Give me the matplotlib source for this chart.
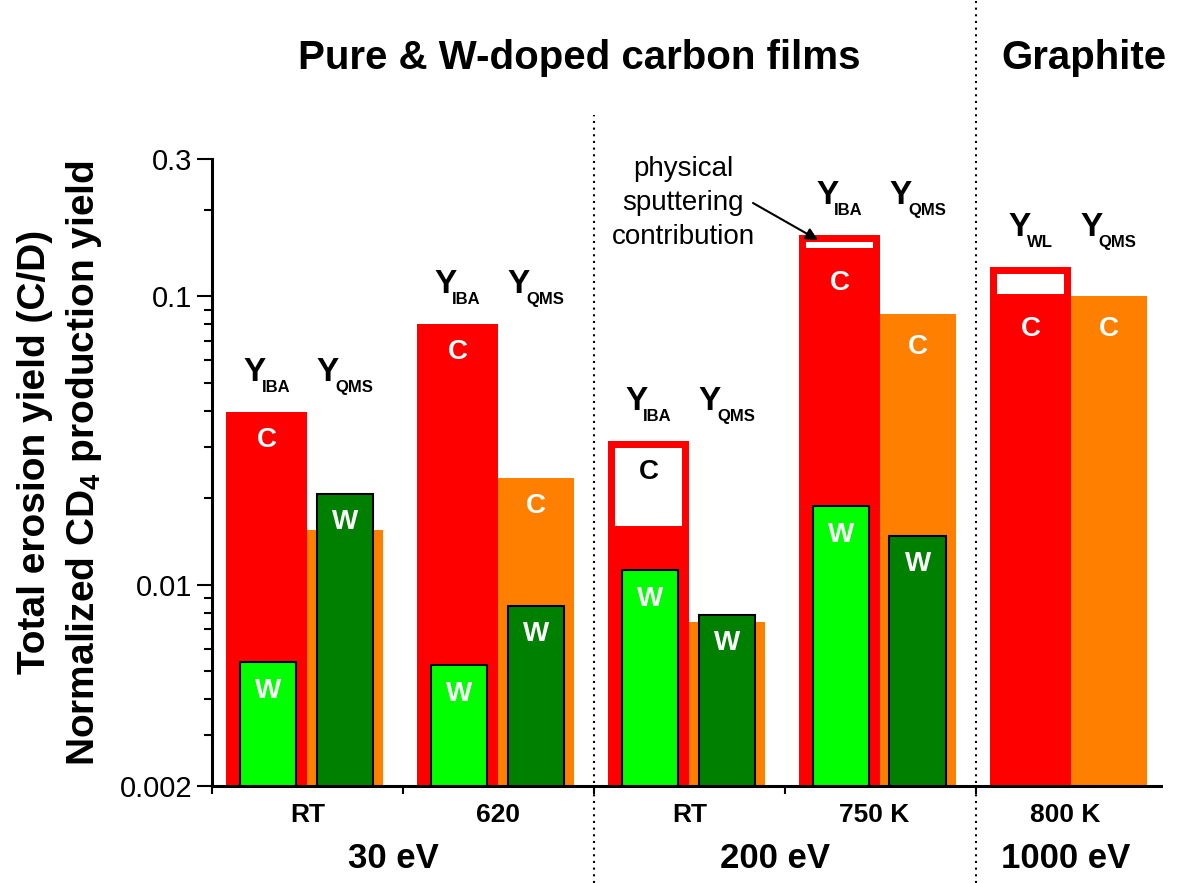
import matplotlib
matplotlib.use("Agg")
import matplotlib.pyplot as plt
from matplotlib.ticker import FixedLocator, NullFormatter, FixedFormatter

plt.rcParams['font.family'] = ['Liberation Sans', 'DejaVu Sans']
plt.rcParams['mathtext.fontset'] = 'custom'
plt.rcParams['mathtext.rm'] = 'Liberation Sans:bold'
plt.rcParams['mathtext.bf'] = 'Liberation Sans:bold'
plt.rcParams['mathtext.default'] = 'bf'

# ---------------- data ----------------
group_pos = [0, 1, 2, 3, 4]
temp_labels = ["RT", "620", "RT", "750 K", "800 K"]
temp_label_pos = [0.5, 1.5, 2.5, 3.47, 4.47]
energy_labels = ["30 eV", "200 eV", "1000 eV"]
energy_label_pos = [0.95, 2.95, 4.47]
red_label_subs = ["IBA", "IBA", "IBA", "IBA", "WL"]
orange_label_subs = ["QMS", "QMS", "QMS", "QMS", "QMS"]

c_total = [0.0396, 0.080, 0.0316, 0.164, 0.127]        # red: total erosion yield (C)
c_chemical = [None, None, 0.0160, 0.147, 0.1016]       # below the physical sputtering part
c_qms = [0.0155, 0.0235, 0.00744, 0.0866, 0.100]       # orange: CD4 QMS (C)
w_iba = [0.0054, 0.00524, 0.0112, 0.0188, None]        # light green: W-doped IBA
w_qms = [0.0207, 0.0084, 0.00787, 0.0147, None]        # dark green: W-doped QMS

# ---------------- style ----------------
RED = "#FF0000"
ORANGE = "#FF8000"
LGREEN = "#00FF00"
DGREEN = "#008000"
BOTTOM = 0.002

fig = plt.figure(figsize=(11.8, 8.83), dpi=100)
W, H = 1180, 883
ax = fig.add_axes([212 / W, (H - 786) / H, (1161 - 212) / W, (786 - 159) / H])
ax.set_yscale("log")
ax.set_ylim(0.002, 0.3)
ax.set_xlim(0, 4.97)

red_off, red_w = 0.075, 0.422
or_off, or_w = 0.497, 0.398
lg_off, lg_w = 0.147, 0.293
dg_off, dg_w = 0.548, 0.295

for i, g in enumerate(group_pos):
    ax.bar(g + or_off, c_qms[i] - BOTTOM, bottom=BOTTOM, width=or_w, align="edge",
           color=ORANGE, linewidth=0, zorder=2)
    ax.bar(g + red_off, c_total[i] - BOTTOM, bottom=BOTTOM, width=red_w, align="edge",
           color=RED, linewidth=0, zorder=2)
    if c_chemical[i] is not None:
        inset = 0.037
        top = c_total[i] * 10 ** (-7 / 288)
        ax.bar(g + red_off + inset, top - c_chemical[i], bottom=c_chemical[i],
               width=red_w - 2 * inset, align="edge", color="white", linewidth=0, zorder=3)
    if w_iba[i] is not None:
        ax.bar(g + lg_off, w_iba[i] - BOTTOM, bottom=BOTTOM, width=lg_w, align="edge",
               color=LGREEN, edgecolor="black", linewidth=1.5, zorder=4)
    if w_qms[i] is not None:
        ax.bar(g + dg_off, w_qms[i] - BOTTOM, bottom=BOTTOM, width=dg_w, align="edge",
               color=DGREEN, edgecolor="black", linewidth=1.5, zorder=4)

# letters inside bars
lfs = 20
for i, g in enumerate(group_pos):
    if i == 2:
        anchor, col, dy = c_total[i], "black", -31
    elif c_chemical[i] is not None:
        anchor, col, dy = c_chemical[i], "white", -35
    else:
        anchor, col, dy = c_total[i], "white", -28
    ax.annotate("C", xy=(g + red_off + red_w / 2, anchor), xytext=(0, dy),
                textcoords="offset pixels", ha="center", va="center",
                fontsize=lfs, fontweight="bold", color=col, zorder=6)
    if i in (1, 3, 4):
        ax.annotate("C", xy=(g + or_off + or_w / 2, c_qms[i]),
                    xytext=(0, -33 if i >= 3 else -28),
                    textcoords="offset pixels", ha="center", va="center",
                    fontsize=lfs, fontweight="bold", color="white", zorder=6)
    if w_iba[i] is not None:
        ax.annotate("W", xy=(g + lg_off + lg_w / 2, w_iba[i]), xytext=(0, -29),
                    textcoords="offset pixels", ha="center", va="center",
                    fontsize=lfs, fontweight="bold", color="white", zorder=6)
    if w_qms[i] is not None:
        ax.annotate("W", xy=(g + dg_off + dg_w / 2, w_qms[i]), xytext=(0, -28),
                    textcoords="offset pixels", ha="center", va="center",
                    fontsize=lfs, fontweight="bold", color="white", zorder=6)

# Y_xxx labels above groups
ylabels = []
for i, g in enumerate(group_pos):
    for xc, sub in ((g + red_off + red_w / 2, red_label_subs[i]),
                    (g + or_off + or_w / 2, orange_label_subs[i])):
        t1 = ax.annotate("Y", xy=(xc, c_total[i]), xytext=(0, 31), textcoords="offset pixels",
                         ha="left", va="baseline", fontsize=24, fontweight="bold",
                         annotation_clip=False)
        t2 = ax.annotate(sub, xy=(xc, c_total[i]), xytext=(0, 20), textcoords="offset pixels",
                         ha="left", va="baseline", fontsize=12, fontweight="bold",
                         annotation_clip=False)
        ylabels.append((t1, t2))

renderer = fig.canvas.get_renderer()
for t1, t2 in ylabels:
    w1 = t1.get_window_extent(renderer).width
    w2 = t2.get_window_extent(renderer).width
    total = w1 + w2 - 4
    t1.set_position((-total / 2, 31))
    t2.set_position((-total / 2 + w1 - 4, 20))

# axes styling
for s in ("top", "right"):
    ax.spines[s].set_visible(False)
for s in ("left", "bottom"):
    ax.spines[s].set_linewidth(2.2)

ax.yaxis.set_major_locator(FixedLocator([0.002, 0.01, 0.1, 0.3]))
ax.yaxis.set_major_formatter(FixedFormatter(["0.002", "0.01", "0.1", "0.3"]))
minors = [0.003, 0.004, 0.005, 0.006, 0.007, 0.008, 0.009,
          0.02, 0.03, 0.04, 0.05, 0.06, 0.07, 0.08, 0.09, 0.2]
ax.yaxis.set_minor_locator(FixedLocator(minors))
ax.yaxis.set_minor_formatter(NullFormatter())
ax.tick_params(axis="y", which="major", length=11, width=1.5, direction="out",
               labelsize=21, pad=3)
ax.tick_params(axis="y", which="minor", length=6, width=1.5, direction="out")
ax.set_xticks([0, 1, 2, 3, 4])
ax.set_xticklabels([])
ax.tick_params(axis="x", which="major", length=6, width=1.5, direction="out")
ax.tick_params(axis="x", which="minor", bottom=False)

# x category labels
xt = ax.get_xaxis_transform()
for lab, xp in zip(temp_labels, temp_label_pos):
    ax.text(xp, (786 - 815) / 627, lab, transform=xt, ha="center", va="center",
            fontsize=19, fontweight="bold")
for lab, xp in zip(energy_labels, energy_label_pos):
    ax.text(xp, (786 - 858) / 627, lab, transform=xt, ha="center", va="center",
            fontsize=25, fontweight="bold")

# dotted separators
ax.axvline(2, ymin=(786 - 883) / 627, ymax=(786 - 115) / 627, clip_on=False,
           color="black", lw=1.5, ls=(0, (1, 2.2)), zorder=1)
ax.axvline(4, ymin=(786 - 883) / 627, ymax=786 / 627, clip_on=False,
           color="black", lw=1.5, ls=(0, (1, 2.2)), zorder=1)

# titles
fig.text(579 / W, 1 - 58 / H, "Pure & W-doped carbon films", ha="center", va="center",
         fontsize=29, fontweight="bold")
fig.text(1084 / W, 1 - 58 / H, "Graphite", ha="center", va="center",
         fontsize=29, fontweight="bold")

# y-axis label (two lines)
fig.text(35 / W, 1 - 452 / H, "Total erosion yield (C/D)", rotation=90,
         ha="center", va="center", fontsize=28, fontweight="bold")
fig.text(84 / W, 1 - 463 / H, r"Normalized CD$_4$ production yield", rotation=90,
         ha="center", va="center", fontsize=28, fontweight="bold")

# physical sputtering annotation
fig.text(683 / W, 1 - 203 / H, "physical\nsputtering\ncontribution", ha="center",
         va="center", fontsize=20, linespacing=1.38)
ax.annotate("", xy=(818, H - 240), xycoords="figure pixels",
            xytext=(753, H - 203), textcoords="figure pixels",
            arrowprops=dict(arrowstyle="-|>", color="black", lw=1.5,
                            mutation_scale=18, shrinkA=0, shrinkB=0))

fig.savefig("out.png", dpi=100)
